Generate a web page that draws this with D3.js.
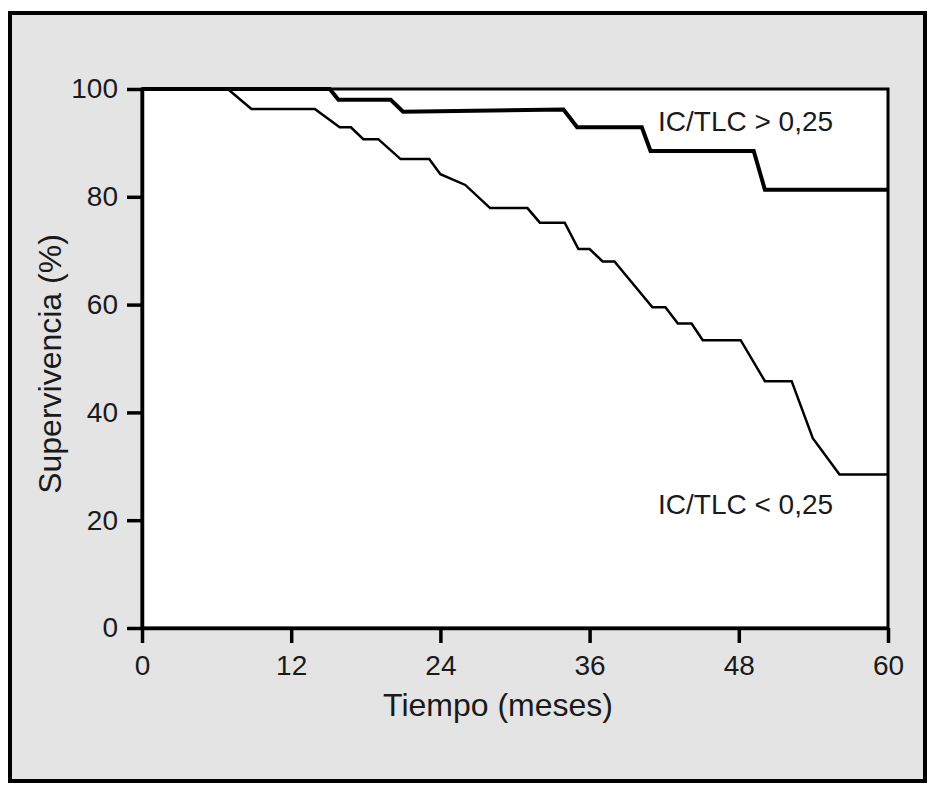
<!DOCTYPE html>
<html lang="es">
<head>
    <meta charset="UTF-8">
    <title>Supervivencia IC/TLC</title>
    <script src="https://d3js.org/d3.v7.min.js"></script>
    <style>
        body {
            margin: 0;
            background: #fff;
            font-family: "Liberation Sans", Arial, sans-serif;
        }
        svg text {
            fill: #1a1a1a;
        }
    </style>
</head>
<body>
    <div id="chart"></div>

    <script>
        // Kaplan-Meier curves: [months, % survival]
        const timeTicks = [0, 12, 24, 36, 48, 60];
        const survTicks = [0, 20, 40, 60, 80, 100];

        const highGroup = [
            [0, 100], [15.1, 100], [15.8, 98], [20, 98], [21, 95.8], [33.9, 96.2],
            [35, 92.9], [40.2, 92.9], [40.9, 88.5], [49.2, 88.5], [50.1, 81.3], [60, 81.3]
        ];
        const lowGroup = [
            [0, 100], [6.9, 100], [8.8, 96.3], [13.9, 96.3], [15.9, 92.9], [16.8, 92.9],
            [17.8, 90.7], [19, 90.7], [20.8, 87], [23.1, 87], [24, 84.2], [26, 82.2],
            [28, 77.9], [31, 77.9], [32, 75.2], [34, 75.2], [35.1, 70.3], [36, 70.3],
            [37.05, 68], [38, 68], [41.05, 59.5], [42.1, 59.5], [43.1, 56.5], [44.2, 56.5],
            [45.1, 53.4], [48.15, 53.4], [50.1, 45.8], [52.25, 45.8], [53.95, 35.2],
            [56.1, 28.5], [60, 28.5]
        ];
        const labels = ["IC/TLC > 0,25", "IC/TLC < 0,25"];

        const width = 937, height = 790;
        const margin = { top: 89, right: 49, bottom: 162, left: 142 };

        const svg = d3.select("#chart").append("svg")
            .attr("width", width).attr("height", height);

        // grey panel with black frame
        svg.append("rect")
            .attr("x", 10).attr("y", 13)
            .attr("width", 915).attr("height", 768)
            .attr("fill", "#e4e4e4")
            .attr("stroke", "#000").attr("stroke-width", 4);

        const x = d3.scaleLinear().domain([0, 60]).range([margin.left, width - margin.right]);
        const y = d3.scaleLinear().domain([0, 100]).range([height - margin.bottom, margin.top]);

        // white plot area with frame
        svg.append("rect")
            .attr("x", x(0)).attr("y", y(100))
            .attr("width", x(60) - x(0)).attr("height", y(0) - y(100))
            .attr("fill", "#fff")
            .attr("stroke", "#000").attr("stroke-width", 3);

        const xAxis = svg.append("g")
            .attr("transform", `translate(0,${y(0)})`)
            .call(d3.axisBottom(x).tickValues(timeTicks).tickSize(15).tickSizeOuter(0).tickPadding(12));
        const yAxis = svg.append("g")
            .attr("transform", `translate(${x(0)},0)`)
            .call(d3.axisLeft(y).tickValues(survTicks).tickSize(15).tickSizeOuter(0).tickPadding(9));

        [xAxis, yAxis].forEach(g => {
            g.selectAll("path, line").attr("stroke", "#000").attr("stroke-width", 3.5);
            g.selectAll("text")
                .attr("fill", "#1a1a1a")
                .style("font-family", "\"Liberation Sans\", Arial, sans-serif")
                .style("font-size", "28px");
        });

        const line = d3.line().x(d => x(d[0])).y(d => y(d[1]));

        svg.append("path").datum(lowGroup)
            .attr("d", line)
            .attr("fill", "none").attr("stroke", "#000")
            .attr("stroke-width", 2.5).attr("stroke-linejoin", "miter");

        svg.append("path").datum(highGroup)
            .attr("d", line)
            .attr("fill", "none").attr("stroke", "#000")
            .attr("stroke-width", 4).attr("stroke-linejoin", "miter");

        // curve labels
        svg.append("text")
            .attr("x", 658).attr("y", 131)
            .style("font-size", "28px")
            .text(labels[0]);
        svg.append("text")
            .attr("x", 658).attr("y", 514)
            .style("font-size", "28px")
            .text(labels[1]);

        // axis titles
        svg.append("text")
            .attr("x", 498).attr("y", 716)
            .attr("text-anchor", "middle")
            .style("font-size", "32px")
            .text("Tiempo (meses)");

        svg.append("text")
            .attr("transform", "translate(61,364) rotate(-90)")
            .attr("text-anchor", "middle")
            .style("font-size", "32px")
            .text("Supervivencia (%)");
    </script>
</body>
</html>
